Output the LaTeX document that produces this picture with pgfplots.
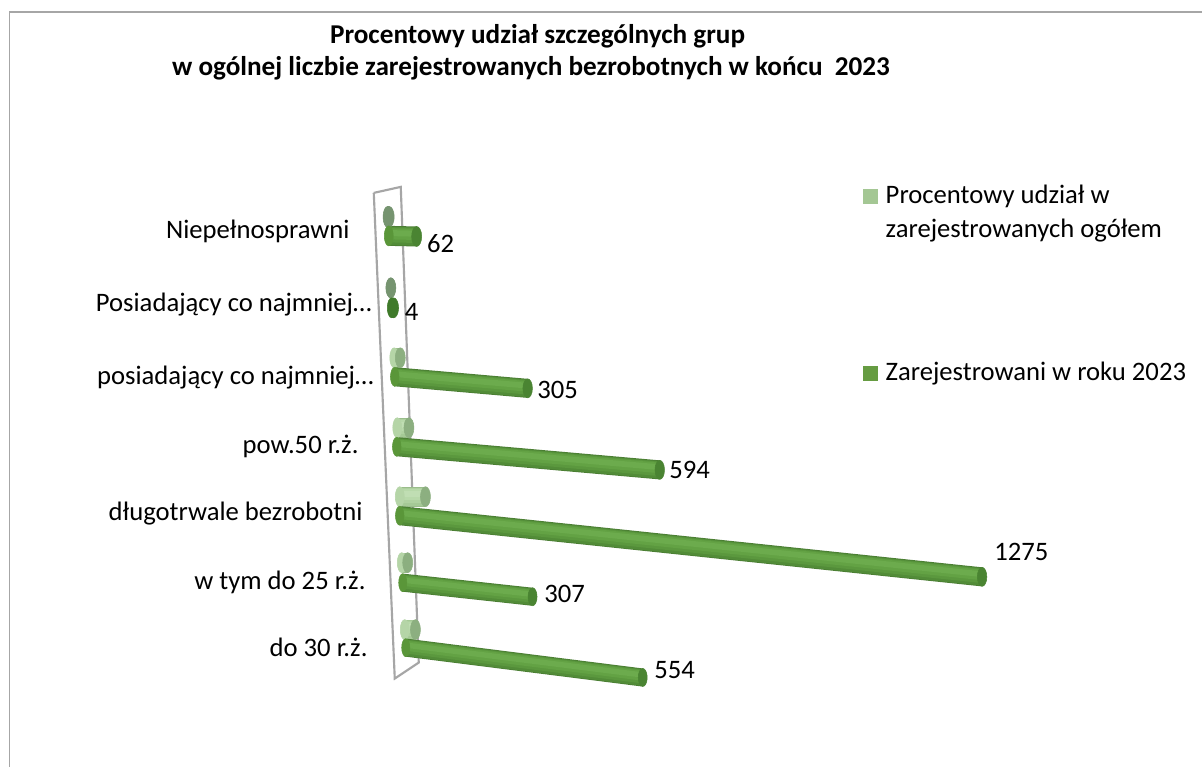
\documentclass[border=0pt]{standalone}
\usepackage{fontspec}
\setmainfont{Carlito}
\usepackage{pgfplots}
\pgfplotsset{compat=1.18}

% palette: A edge ... D highlight, E end cap, F start cap
\definecolor{gA}{HTML}{4A7D33}\definecolor{gB}{HTML}{528C38}\definecolor{gC}{HTML}{5B983E}
\definecolor{gD}{HTML}{63A244}\definecolor{gG}{HTML}{6CAB4D}\definecolor{gE}{HTML}{4A8432}\definecolor{gF}{HTML}{5A9639}
\definecolor{sA}{HTML}{9ABD8B}\definecolor{sB}{HTML}{A5C996}\definecolor{sC}{HTML}{AFD1A0}
\definecolor{sD}{HTML}{B8D9AA}\definecolor{sG}{HTML}{C0DEB3}\definecolor{sE}{HTML}{8CAF80}\definecolor{sF}{HTML}{B5D5A7}
\definecolor{tA}{HTML}{78967A}\definecolor{tB}{HTML}{78967A}\definecolor{tC}{HTML}{78967A}
\definecolor{tD}{HTML}{78967A}\definecolor{tG}{HTML}{78967A}\definecolor{tE}{HTML}{769470}\definecolor{tF}{HTML}{769470}
\definecolor{dA}{HTML}{3F7A2A}\definecolor{dB}{HTML}{3F7A2A}\definecolor{dC}{HTML}{3F7A2A}
\definecolor{dD}{HTML}{3F7A2A}\definecolor{dG}{HTML}{3F7A2A}\definecolor{dE}{HTML}{3F7A2A}\definecolor{dF}{HTML}{3F7A2A}
\definecolor{wallgray}{HTML}{A6A6A6}
\definecolor{legshare}{HTML}{A4C794}
\definecolor{legreg}{HTML}{669C42}

% #1 x0, #2 y0, #3 px per unit across, #4 px per unit down, #5 value, #6 width px, #7 offset px, #8 colour
\newcommand{\band}[8]{%
  \addplot[#8, line width=#6*0.75pt, no marks, line cap=butt, forget plot]
    table[row sep=\\, x expr={#1+#3*\thisrow{v}}, y expr={#2+#7+#4*\thisrow{v}}] {v\\0\\#5\\};}
% #1 x0, #2 y0, #3 kx, #4 ky, #5 value, #6 thickness px, #7 palette
\newcommand{\cyl}[7]{%
  \addplot[only marks, mark=*, forget plot, mark size=#6*0.375pt,
      mark options={xscale=0.45, draw=#7F, fill=#7F}]
    table[row sep=\\, x expr={#1+#3*\thisrow{v}}, y expr={#2+#4*\thisrow{v}}] {v\\0\\};
  \band{#1}{#2}{#3}{#4}{#5}{#6}{0}{#7A}
  \band{#1}{#2}{#3}{#4}{#5}{#6*0.92}{0}{#7B}
  \band{#1}{#2}{#3}{#4}{#5}{#6*0.75}{-#6*0.05}{#7C}
  \band{#1}{#2}{#3}{#4}{#5}{#6*0.55}{-#6*0.10}{#7D}
  \band{#1}{#2}{#3}{#4}{#5}{#6*0.30}{-#6*0.14}{#7G}
  \addplot[only marks, mark=*, forget plot, mark size=#6*0.375pt,
      mark options={xscale=0.5, draw=#7E, fill=#7E}]
    table[row sep=\\, x expr={#1+#3*\thisrow{v}}, y expr={#2+#4*\thisrow{v}}] {v\\#5\\};}

\tikzset{lab/.style={font=\fontsize{20}{20}\selectfont},
  cat/.style={lab, anchor=east, inner sep=0pt},
  leg/.style={lab, anchor=west, inner sep=0pt},
  ttl/.style={font=\fontsize{20.4}{20.4}\selectfont\bfseries, anchor=west, inner sep=0pt}}

\begin{document}
\begin{tikzpicture}
\begin{axis}[
    axis lines=none, x=0.75pt, y=0.75pt, y dir=reverse,
    xmin=0, xmax=1203, ymin=0, ymax=767, clip=false,
    anchor=south west, at={(0,0)}
  ]
  \path[fill=white] (axis cs:0,0) rectangle (axis cs:1203,767);
  % only the top and left sides of the chart border are in the picture
  \draw[wallgray, line width=1.1pt] (axis cs:9.5,767) -- (axis cs:9.5,12) -- (axis cs:1203,12);

  % back wall
  \addplot[wallgray, line width=1.6pt, no marks, forget plot]
    coordinates {(374,193) (401,187) (419,663) (395,679) (374,193)};

  % Procentowy udzial (bottom to top)
  \cyl{405}{630}{0.44}{0}{24.3}{20}{s}
  \cyl{402}{563}{0.44}{0}{13.5}{20}{s}
  \cyl{400}{497}{0.46}{0}{55.9}{20}{s}
  \cyl{397.5}{428}{0.45}{0}{26.0}{20}{s}
  \cyl{394.5}{358}{0.45}{0}{13.4}{20}{s}
  \cyl{391}{288}{0.45}{0}{0.2}{20}{t}
  \cyl{388}{217}{0.45}{0}{2.7}{21}{t}

  % Zarejestrowani w roku 2023
  \cyl{406}{648}{0.428}{0.054}{554}{18}{g}
  \cyl{403}{583}{0.423}{0.046}{307}{18}{g}
  \cyl{400}{516}{0.457}{0.048}{1275}{19}{g}
  \cyl{397}{447}{0.443}{0.039}{594}{19}{g}
  \cyl{395}{377}{0.436}{0.038}{305}{19}{g}
  \cyl{392}{308}{0.450}{0}{4}{20}{d}
  \cyl{389}{236}{0.450}{0.01}{62}{20}{g}

  % data labels
  \node[lab] at (axis cs:441,244) {62};
  \node[lab] at (axis cs:412,312) {4};
  \node[lab] at (axis cs:558,390) {305};
  \node[lab] at (axis cs:690,470) {594};
  \node[lab] at (axis cs:1022,552) {1275};
  \node[lab] at (axis cs:565,594) {307};
  \node[lab] at (axis cs:675,670) {554};

  % category labels
  \node[cat] at (axis cs:350,232) {Niepełnosprawni};
  \node[cat] at (axis cs:372,305) {Posiadający co najmniej…};
  \node[cat] at (axis cs:374,378) {posiadający co najmniej…};
  \node[cat] at (axis cs:359,447) {pow.50 r.ż.};
  \node[cat] at (axis cs:363,514) {długotrwale bezrobotni};
  \node[cat] at (axis cs:366,583) {w tym do 25 r.ż.};
  \node[cat] at (axis cs:368,648) {do 30 r.ż.};

  % title
  \node[ttl] at (axis cs:330,36) {Procentowy udział szczególnych grup};
  \node[ttl] at (axis cs:172,68) {w ogólnej liczbie zarejestrowanych bezrobotnych w końcu\ \ 2023};

  % legend
  \fill[legshare] (axis cs:863.5,189.5) rectangle (axis cs:878.5,204.5);
  \fill[legreg] (axis cs:863.5,366.5) rectangle (axis cs:878.5,381.5);
  \node[leg] at (axis cs:886,197) {Procentowy udział w};
  \node[leg] at (axis cs:886,231) {zarejestrowanych ogółem};
  \node[leg] at (axis cs:886,374) {Zarejestrowani w roku 2023};
\end{axis}
\end{tikzpicture}
\end{document}
